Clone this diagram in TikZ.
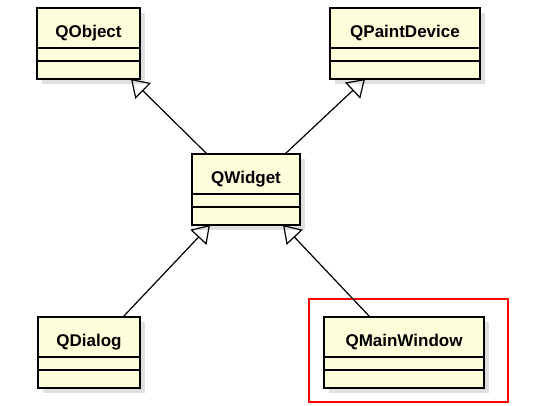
\documentclass[tikz,border=0pt]{standalone}
\usepackage{fontspec}
\setmainfont{Liberation Sans}
\usetikzlibrary{arrows.meta,shadows}
\definecolor{clsfill}{RGB}{254,254,218}
\tikzset{
	cls/.style = {draw, line width=1.7pt, fill=clsfill, anchor=north, inner sep=0pt, outer sep=0pt,
		font=\fontsize{17}{20}\selectfont\bfseries, text height=24pt, text depth=4pt,
		drop shadow={shadow xshift=5pt, shadow yshift=-5pt, fill=black!12, opacity=1}},
	title/.style = {cls, minimum height=40pt},
	partA/.style = {cls, minimum height=13pt, text height=0pt, text depth=0pt},
	partB/.style = {cls, minimum height=18pt, text height=0pt, text depth=0pt},
	inherit/.style = {line width=1.2pt, -{Triangle[open, length=17pt, width=22pt, line width=1.2pt]}}
}
\begin{document}
\begin{tikzpicture}[x=1pt, y=-1pt]
	\useasboundingbox (0,0) rectangle (542,406);

	\node (obj)[title, minimum width=103pt] at (88.5,8) {QObject};
	\node (obj1)[partA, minimum width=103pt] at (obj.south) {};
	\node (obj2)[partB, minimum width=103pt] at (obj1.south) {};

	\node (pnt)[title, minimum width=150pt] at (405,8) {QPaintDevice};
	\node (pnt1)[partA, minimum width=150pt] at (pnt.south) {};
	\node (pnt2)[partB, minimum width=150pt] at (pnt1.south) {};

	\node (wid)[title, minimum width=108pt] at (246,154) {QWidget};
	\node (wid1)[partA, minimum width=108pt] at (wid.south) {};
	\node (wid2)[partB, minimum width=108pt] at (wid1.south) {};

	\node (dlg)[title, minimum width=102pt] at (89,317) {QDialog};
	\node (dlg1)[partA, minimum width=102pt] at (dlg.south) {};
	\node (dlg2)[partB, minimum width=102pt] at (dlg1.south) {};

	\node (mw)[title, minimum width=160pt] at (404,317) {QMainWindow};
	\node (mw1)[partA, minimum width=160pt] at (mw.south) {};
	\node (mw2)[partB, minimum width=160pt] at (mw1.south) {};

	\node (hl)[draw=red, line width=1.6pt, minimum width=199pt, minimum height=103pt, anchor=north west] at (308,298) {};

	\draw [inherit]([xshift=15pt]wid.north west)--([xshift=-9pt]obj2.south east);
	\draw [inherit]([xshift=-15pt]wid.north east)--([xshift=35pt]pnt2.south west);
	\draw [inherit]([xshift=-17pt]dlg.north east)--([xshift=18pt]wid2.south west);
	\draw [inherit]([xshift=46pt]mw.north west)--([xshift=-17pt]wid2.south east);
\end{tikzpicture}
\end{document}
